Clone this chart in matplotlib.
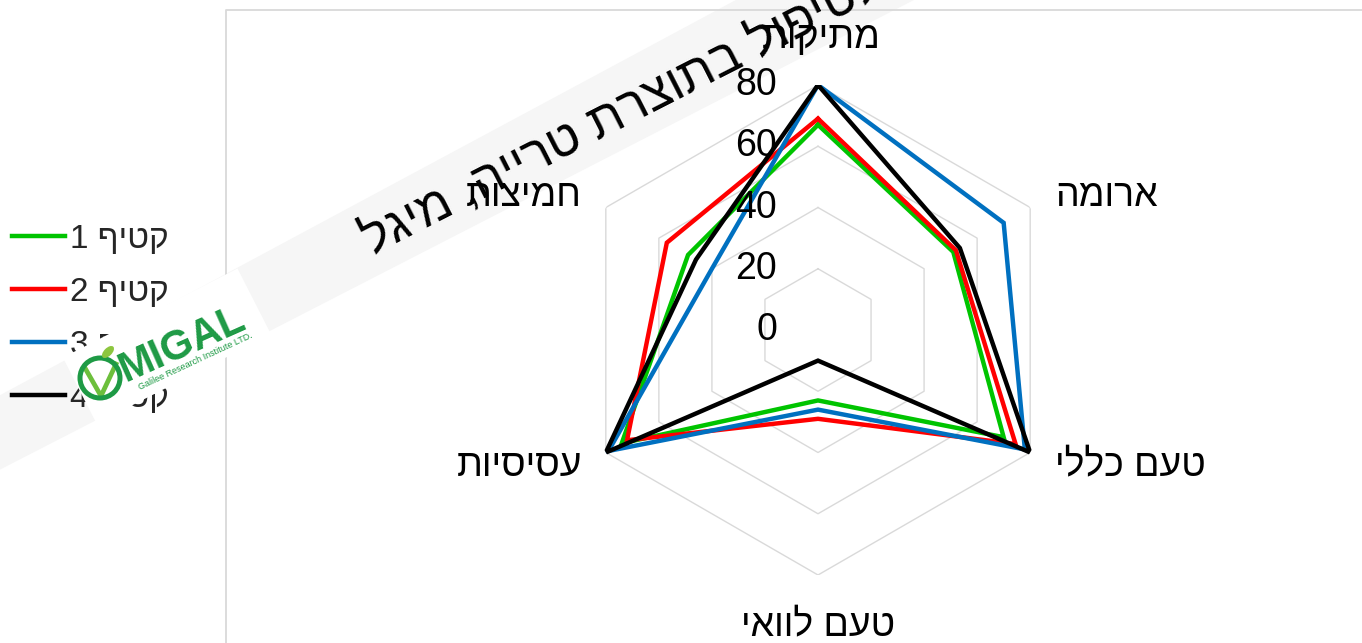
"""Radar chart of sensory scores for four harvests (Hebrew labels)."""

import matplotlib.pyplot as plt
import matplotlib.transforms as mtransforms
import numpy as np
from matplotlib.lines import Line2D
from matplotlib.patches import Circle, Ellipse, Polygon

plt.rcParams["font.family"] = ["Liberation Sans", "DejaVu Sans"]

# attributes clockwise from the top
categories = ["מתיקות", "ארומה", "טעם כללי", "טעם לוואי", "עסיסיות", "חמיצות"]
series_names = ["קטיף 1", "קטיף 2", "קטיף 3", "קטיף 4"]
harvest_1 = [67, 51, 70, 23, 74, 49]
harvest_2 = [69, 52, 74.5, 29, 72, 57]
harvest_3 = [80, 70, 78, 26, 79, 40]
harvest_4 = [80, 53.5, 80, 10, 80, 46]
series_values = [harvest_1, harvest_2, harvest_3, harvest_4]
series_colors = ["#00c400", "#ff0000", "#0070c0", "#000000"]
r_ticks = [0, 20, 40, 60, 80]
title = "המעבדה לטיפול בתוצרת טרייה, מיגל"

W, H = 1362, 643


def rtl(text):
    # matplotlib lays text out left to right, so feed Hebrew in visual order
    return text[::-1]


fig = plt.figure(figsize=(W / 100, H / 100), dpi=100)
# pixel coordinates measured from the top-left corner
px = mtransforms.Affine2D().scale(1, -1).translate(0, H).scale(1 / 100) + fig.dpi_scale_trans

# diagonal watermark band behind everything
band = Polygon(
    [(-20, 405.9), (1000, -141.9), (1000, -44.2), (-20, 479.9)],
    closed=True, transform=px, facecolor="#f6f6f6", edgecolor="none", zorder=-2,
)
fig.patches.append(band)

# plot-area frame
fig.lines.append(Line2D([226, 226, 1370], [650, 10, 10], transform=px,
                        color="#d9d9d9", lw=1.3, zorder=-1))

cx, cy, R = 818, 330, 245
ax = fig.add_axes([(cx - R) / W, (H - cy - R) / H, 2 * R / W, 2 * R / H],
                  projection="polar")
ax.set_theta_offset(np.pi / 2)
ax.set_theta_direction(-1)
ax.set_ylim(0, 80)
ax.grid(False)
ax.set_xticks([])
ax.set_yticks([])
ax.spines["polar"].set_visible(False)
ax.patch.set_alpha(0)

n = len(categories)
theta = np.linspace(0, 2 * np.pi, n, endpoint=False)
theta_closed = np.append(theta, theta[0])

# hexagonal grid rings
for r in r_ticks[1:]:
    ax.plot(theta_closed, [r] * (n + 1), color="#d9d9d9", lw=1.0, zorder=1)

handles = []
for vals, color in zip(series_values, series_colors):
    (line,) = ax.plot(theta_closed, vals + vals[:1], color=color, lw=3.2,
                      solid_joinstyle="miter", zorder=3)
    handles.append(line)

for r in r_ticks:
    ax.annotate(str(r), xy=(0, r), xytext=(-41, 0), textcoords="offset pixels",
                ha="right", va="center", fontsize=27, color="black")

label_offsets = [(3, 47, "center"), (25, 11, "left"), (25, -13, "left"),
                 (0, -50, "center"), (-24, -13, "right"), (-24, 12, "right")]
for t, name, (dx, dy, ha) in zip(theta, categories, label_offsets):
    ax.annotate(rtl(name), xy=(t, 80), xytext=(dx, dy), textcoords="offset pixels",
                ha=ha, va="center", fontsize=27, color="black", annotation_clip=False)

fig.legend(handles, [rtl(s) for s in series_names], loc="center left",
           bbox_to_anchor=(12 / W, 1 - 319 / H), frameon=False, fontsize=24,
           handlelength=1.6, handletextpad=0.15, labelspacing=0.66,
           borderpad=0, borderaxespad=0, labelcolor="#262626")

fig.text(372, 256, rtl(title), transform=px, rotation=27, rotation_mode="anchor",
         ha="left", va="baseline", fontsize=36, color="black", zorder=2)

# logo badge on a white card
ang = np.deg2rad(27)
u = np.array([np.cos(ang), -np.sin(ang)])
v = np.array([np.sin(ang), np.cos(ang)])
c = np.array([167, 346])
card = [c - u * 98 - v * 37, c + u * 98 - v * 37, c + u * 98 + v * 37, c - u * 98 + v * 37]
fig.patches.append(Polygon(card, closed=True, transform=px, facecolor="white",
                           edgecolor="none", zorder=10))
green = "#1e9a45"
fig.patches.append(Circle((100, 378), 20, transform=px, facecolor="none",
                          edgecolor=green, lw=3.6, zorder=11))
fig.lines.append(Line2D([85, 101, 116], [368, 396, 364], transform=px,
                        color="#6cbf3c", lw=3.4, zorder=11))
fig.patches.append(Ellipse((108, 352), 15, 8, angle=-45, transform=px,
                           facecolor="#8dc63f", edgecolor="none", zorder=11))
fig.text(125, 382, "MIGAL", transform=px, rotation=24, rotation_mode="anchor",
         ha="left", va="baseline", fontsize=30, fontweight="bold", color=green, zorder=12)
fig.text(140, 390, "Galilee Research Institute LTD.", transform=px, rotation=25,
         rotation_mode="anchor", ha="left", va="baseline", fontsize=6.5,
         color=green, zorder=12)

fig.savefig("out.png", dpi=100)
